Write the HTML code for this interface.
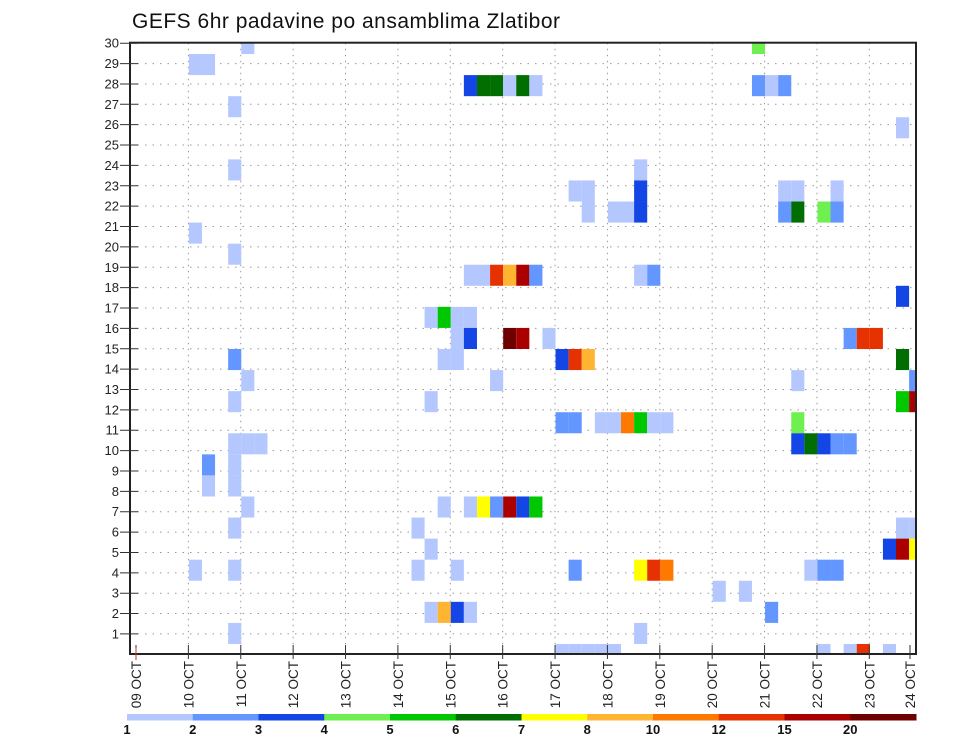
<!DOCTYPE html>
<html><head><meta charset="utf-8"><style>
html,body{margin:0;padding:0;background:#fff;}
svg{display:block;font-family:"Liberation Sans",sans-serif;}
</style></head><body>
<svg id="chart" width="960" height="742" viewBox="0 0 960 742" xmlns="http://www.w3.org/2000/svg">
<text x="132" y="28" font-size="21" fill="#111" letter-spacing="0.5">GEFS 6hr padavine po ansamblima Zlatibor</text>
<g id="grid"></g>
<g id="cells"></g>
<g id="axes"></g>
<g id="colorbar"></g>
</svg>
<script>
// ---- data ----
const dayLabels = ["09 OCT","10 OCT","11 OCT","12 OCT","13 OCT","14 OCT","15 OCT","16 OCT","17 OCT","18 OCT","19 OCT","20 OCT","21 OCT","22 OCT","23 OCT","24 OCT"];
const memberTicks = [1,2,3,4,5,6,7,8,9,10,11,12,13,14,15,16,17,18,19,20,21,22,23,24,25,26,27,28,29,30];
const levelBreaks = [1,2,3,4,5,6,7,8,10,12,15,20];
const levelColors = ["#b4c8ff","#6496ff","#1446e6","#6ef050","#00c800","#006e00","#ffff00","#ffb432","#ff7800","#e63200","#aa0000","#6e0000"];
// ensemble member index (row), 6-hour step index (column), precipitation mm
const cellMember = [
29,29,
28,28,
27,27,27,27,27,27,27,27,27,
26,25,23,23,
22,22,22,22,22,22,
21,21,21,21,21,21,21,21,
20,19,
18,18,18,18,18,18,18,18,
17,
16,16,16,16,
15,15,15,15,15,15,15,15,
14,14,14,14,14,14,14,
13,13,13,13,
12,12,12,12,
11,11,11,11,11,11,11,11,11,
10,10,10,10,10,10,10,10,
9,9,8,8,
7,7,7,7,7,7,7,7,
6,6,6,6,
5,5,5,5,
4,4,4,4,4,4,4,4,4,4,4,
3,3,
2,2,2,2,2,
1,1,
0,0,0,0,0,0,0,0,0];
const cellStep = [
8,47,
4,5,
25,26,27,28,29,30,47,48,49,
7,58,7,38,
33,34,38,49,50,53,
34,36,37,38,49,50,52,53,
4,7,
25,26,27,28,29,30,38,39,
58,
22,23,24,25,
24,25,28,29,31,54,55,56,
7,23,24,32,33,34,58,
8,27,50,59,
7,22,58,59,
32,33,35,36,37,38,39,40,50,
7,8,9,50,51,52,53,54,
5,7,5,7,
8,23,25,26,27,28,29,30,
7,21,58,59,
22,57,58,59,
4,7,21,24,33,38,39,40,51,52,53,
44,46,
22,23,24,25,48,
7,38,
32,33,34,35,36,52,54,55,57];
const cellPrecip = [
1.5,4.5,
1.5,1.5,
3.5,6.5,6.5,1.5,6.5,1.5,2.5,1.5,2.5,
1.5,1.5,1.5,1.5,
1.5,1.5,3.5,1.5,1.5,1.5,
1.5,1.5,1.5,3.5,2.5,6.5,4.5,2.5,
1.5,1.5,
1.5,1.5,13.5,9,17.5,2.5,1.5,2.5,
3.5,
1.5,5.5,1.5,1.5,
1.5,3.5,25,17.5,1.5,2.5,13.5,13.5,
2.5,1.5,1.5,3.5,13.5,9,6.5,
1.5,1.5,1.5,2.5,
1.5,1.5,5.5,17.5,
2.5,2.5,1.5,1.5,11,5.5,1.5,1.5,4.5,
1.5,1.5,1.5,3.5,6.5,3.5,2.5,2.5,
2.5,1.5,1.5,1.5,
1.5,1.5,1.5,7.5,2.5,17.5,3.5,5.5,
1.5,1.5,1.5,1.5,
1.5,3.5,17.5,7.5,
1.5,1.5,1.5,1.5,2.5,7.5,13.5,11,1.5,2.5,2.5,
1.5,1.5,
1.5,9,3.5,1.5,2.5,
1.5,1.5,
1.5,1.5,1.5,1.5,1.5,1.5,1.5,13.5,1.5];

// ---- geometry ----
const PL=130, PR=916, PT=42.7, PB=654;
const NS="http://www.w3.org/2000/svg";
const dayW=52.38, stepW=dayW/4;
function xDay(d){ return Math.min(136 + d*dayW, 910); }
function xStep(i){ return 136.5 + i*stepW; }
const memH=(654.5-43.5)/29;
function yMember(k){ return 654.5 - k*memH; }
function yTick(r){ return 654.3 - r*20.37; }
function colorFor(v){ let c=0; for(let j=0;j<levelBreaks.length;j++){ if(v>=levelBreaks[j]) c=j; } return levelColors[c]; }
function mk(tag, attrs, parent){ const e=document.createElementNS(NS,tag); for(const k in attrs) e.setAttribute(k,attrs[k]); parent.appendChild(e); return e; }

const grid=document.getElementById('grid'), cells=document.getElementById('cells'), axes=document.getElementById('axes'), cb=document.getElementById('colorbar');

// grid
memberTicks.forEach(r=>{
  if(r>=30) return;
  const l=mk('line',{x1:PL,x2:PR,y1:yTick(r),y2:yTick(r),stroke:'#999','stroke-width':1,'stroke-dasharray':'1.5,6'},grid);
  
  
});
dayLabels.forEach((lab,d)=>{
  if(d===0||d===dayLabels.length-1) return;
  const l=mk('line',{x1:xDay(d),x2:xDay(d),y1:PT,y2:PB,stroke:'#999','stroke-width':1,'stroke-dasharray':'1.5,4.5'},grid);
  
  
});

// cells
for(let n=0;n<cellMember.length;n++){
  const x=xStep(cellStep[n]); let x2=x+stepW;
  let y1=yMember(cellMember[n])-memH/2, y2=y1+memH;
  y1=Math.max(y1,PT); y2=Math.min(y2,PB); x2=Math.min(x2,PR);
  const r=mk('rect',{x:x.toFixed(2),y:y1.toFixed(2),width:(x2-x).toFixed(2),height:(y2-y1).toFixed(2),fill:colorFor(cellPrecip[n])},cells);
  
  
}

// frame
const fr=mk('rect',{x:PL,y:PT,width:PR-PL,height:PB-PT,fill:'none',stroke:'#222','stroke-width':2},axes);



// y ticks
memberTicks.forEach(r=>{
  const y=yTick(r);
  const t=mk('line',{x1:120,x2:138,y1:y,y2:y,stroke:'#333','stroke-width':1},axes);
  
  
  const tx=mk('text',{x:119,y:y+4.5,'font-size':13,'text-anchor':'end',fill:'#222'},axes);
  tx.textContent=r;
  
  
});
// x ticks
dayLabels.forEach((lab,d)=>{
  const x=xDay(d);
  const t=mk('line',{x1:x,x2:x,y1:645,y2:659,stroke:'#333','stroke-width':1},axes);
  
  
  const tx=mk('text',{x:0,y:0,'font-size':13.5,'text-anchor':'end',fill:'#222',transform:`translate(${x+5},661) rotate(-90)`},axes);
  tx.textContent=lab;
  
  
});
// origin red mark
const om=mk('line',{x1:136,x2:136,y1:648,y2:660,stroke:'#c33','stroke-width':1},axes);



// colorbar
const cbL=127, cbR=916, segW=(cbR-cbL)/levelColors.length;
levelColors.forEach((c,j)=>{
  const r=mk('rect',{x:cbL+j*segW,y:714,width:segW+0.5,height:6.5,fill:c},cb);
  
  
});
levelBreaks.forEach((b,j)=>{
  const tx=mk('text',{x:cbL+j*segW,y:734,'font-size':13,'text-anchor':'middle',fill:'#111','font-weight':'bold'},cb);
  tx.textContent=b;
  
  
});
</script>
</body></html>
